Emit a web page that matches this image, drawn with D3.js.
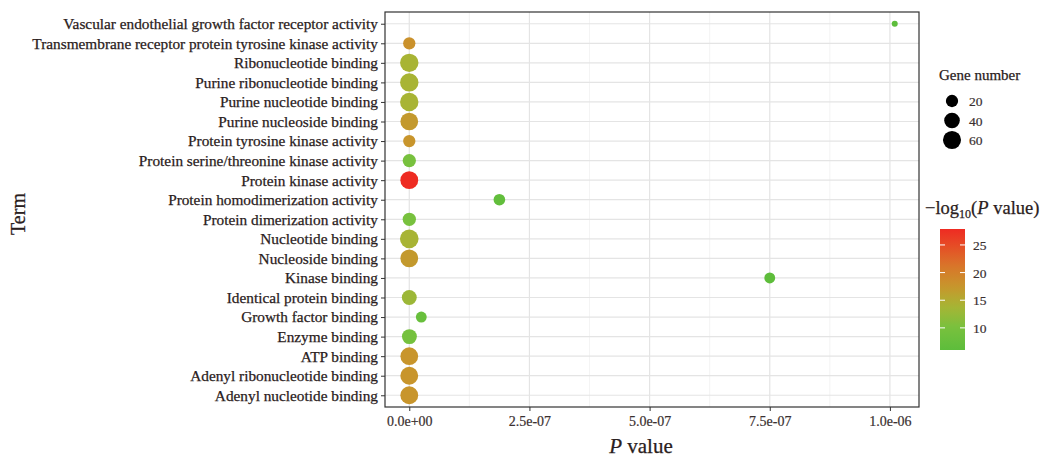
<!DOCTYPE html>
<html>
<head>
<meta charset="utf-8">
<script src="https://cdn.jsdelivr.net/npm/d3@7"></script>
<style>
  html, body { margin: 0; padding: 0; background: #fff; }
  svg { display: block; font-family: "Liberation Serif", "Times New Roman", serif; }
</style>
</head>
<body>
<svg id="chart" width="1046" height="458"></svg>
<script>
// GO terms, top to bottom
const terms = [
  "Vascular endothelial growth factor receptor activity",
  "Transmembrane receptor protein tyrosine kinase activity",
  "Ribonucleotide binding",
  "Purine ribonucleotide binding",
  "Purine nucleotide binding",
  "Purine nucleoside binding",
  "Protein tyrosine kinase activity",
  "Protein serine/threonine kinase activity",
  "Protein kinase activity",
  "Protein homodimerization activity",
  "Protein dimerization activity",
  "Nucleotide binding",
  "Nucleoside binding",
  "Kinase binding",
  "Identical protein binding",
  "Growth factor binding",
  "Enzyme binding",
  "ATP binding",
  "Adenyl ribonucleotide binding",
  "Adenyl nucleotide binding"
];
// enrichment P values
const pValues = [
  1.01e-6, 1e-18, 1e-14, 1e-14, 1e-14, 1e-17, 3e-18, 1e-10, 1.3e-28, 1.875e-7,
  1e-10, 1e-14, 1e-17, 7.5e-7, 1e-13, 2.5e-8, 3e-10, 3e-18, 3e-18, 3e-18
];
// genes per term
const geneCounts = [
  5, 20, 63, 63, 63, 57, 20, 25, 58, 17,
  25, 65, 57, 14, 35, 14, 35, 57, 58, 58
];
const xTicks = [0, 2.5e-7, 5e-7, 7.5e-7, 1e-6];
const xTickLabels = ["0.0e+00", "2.5e-07", "5.0e-07", "7.5e-07", "1.0e-06"];
const sizeBreaks = [20, 40, 60];
const colorBreaks = [10, 15, 20, 25];
// colour ramp stops along -log10(P)
const rampValues = [6, 10, 14, 17.5, 21, 25, 28];
const rampColors = ["#5dbd3b", "#78c13e", "#a8b434", "#c8952c", "#d8782a", "#e64b26", "#ee2a22"];

const data = terms.map((t, i) => ({
  term: t, p: pValues[i], genes: geneCounts[i], logp: -Math.log10(pValues[i])
}));

const svg = d3.select("#chart");
const panel = { left: 385, right: 919, top: 12, bottom: 407 };
const textFill = "#2a2020";

// continuous x with 5% padding on both sides
const pMax = d3.max(pValues), pMin = d3.min(pValues);
const pad = (pMax - pMin) * 0.05;
const x = d3.scaleLinear().domain([pMin - pad, pMax + pad]).range([panel.left, panel.right]);

// discrete y with 0.6 band padding on each end
const y = d3.scalePoint().domain(terms).range([panel.top, panel.bottom]).padding(0.6);

const logExtent = d3.extent(data, d => d.logp);
const color = d3.scaleLinear().domain(rampValues).range(rampColors).clamp(true);

const geneExtent = d3.extent(geneCounts);
const norm = d3.scaleLinear().domain(geneExtent).range([0, 1]);
const rScale = d3.scaleSqrt().domain([0, 1]).range([3, 9.3]);
const radius = g => rScale(Math.max(0, norm(g)));

// gridlines
const grid = svg.append("g");
const step = xTicks[1] - xTicks[0];
const minorTicks = d3.range(-1, xTicks.length).map(i => xTicks[0] + (i + 0.5) * step)
  .filter(v => x(v) > panel.left && x(v) < panel.right);
grid.selectAll(".minor").data(minorTicks).join("line")
  .attr("x1", d => x(d)).attr("x2", d => x(d)).attr("y1", panel.top).attr("y2", panel.bottom)
  .attr("stroke", "#f0f0f0").attr("stroke-width", 0.8);
grid.selectAll(".major").data(xTicks).join("line")
  .attr("x1", d => x(d)).attr("x2", d => x(d)).attr("y1", panel.top).attr("y2", panel.bottom)
  .attr("stroke", "#e4e4e4").attr("stroke-width", 1.2);
grid.selectAll(".hrow").data(terms).join("line")
  .attr("x1", panel.left).attr("x2", panel.right).attr("y1", d => y(d)).attr("y2", d => y(d))
  .attr("stroke", "#e4e4e4").attr("stroke-width", 1.2);

// points
svg.append("g").selectAll("circle").data(data).join("circle")
  .attr("cx", d => x(d.p)).attr("cy", d => y(d.term))
  .attr("r", d => radius(d.genes))
  .attr("fill", d => color(d.logp));

// panel border
svg.append("rect")
  .attr("x", panel.left).attr("y", panel.top)
  .attr("width", panel.right - panel.left).attr("height", panel.bottom - panel.top)
  .attr("fill", "none").attr("stroke", "#333").attr("stroke-width", 1.2);

// x axis
const xAxis = d3.axisBottom(x).tickValues(xTicks).tickFormat((d, i) => xTickLabels[i]).tickSizeInner(4).tickSizeOuter(0).tickPadding(5);
const gx = svg.append("g").attr("transform", `translate(0,${panel.bottom})`).call(xAxis);
gx.select(".domain").remove();
gx.selectAll(".tick line").attr("stroke", "#333");
gx.selectAll(".tick text").attr("fill", "#3a3030").attr("stroke", "#3a3030").attr("stroke-width", 0.2)
  .style("font-size", "14px").style("font-family", "Liberation Serif");

// y axis
const yAxis = d3.axisLeft(y).tickSizeInner(4).tickSizeOuter(0).tickPadding(3);
const gy = svg.append("g").attr("transform", `translate(${panel.left},0)`).call(yAxis);
gy.select(".domain").remove();
gy.selectAll(".tick line").attr("stroke", "#333");
gy.selectAll(".tick text").attr("fill", textFill).attr("stroke", textFill).attr("stroke-width", 0.25)
  .style("font-size", "15.3px").style("font-family", "Liberation Serif");

// axis titles
svg.append("text").attr("transform", "translate(25,214) rotate(-90)")
  .attr("text-anchor", "middle").style("font-size", "20px").attr("fill", textFill)
  .attr("stroke", textFill).attr("stroke-width", 0.25).text("Term");
const xt = svg.append("text").attr("x", 641).attr("y", 453)
  .attr("text-anchor", "middle").style("font-size", "21px").attr("fill", textFill)
  .attr("stroke", textFill).attr("stroke-width", 0.25);
xt.append("tspan").attr("font-style", "italic").text("P");
xt.append("tspan").text(" value");

// size legend
const lg = svg.append("g");
lg.append("text").attr("x", 939).attr("y", 80).style("font-size", "15px").attr("fill", textFill)
  .attr("stroke", textFill).attr("stroke-width", 0.25).text("Gene number");
sizeBreaks.forEach((b, i) => {
  const cy = 101 + i * 19.5;
  lg.append("circle").attr("cx", 952).attr("cy", cy).attr("r", radius(b)).attr("fill", "#000");
  lg.append("text").attr("x", 969).attr("y", cy + 5).style("font-size", "13.5px").attr("fill", "#3a3030")
    .attr("stroke", "#3a3030").attr("stroke-width", 0.2).text(b);
});

// colour legend
const cg = svg.append("g");
const ct = cg.append("text").attr("x", 925).attr("y", 214).style("font-size", "18.5px").attr("fill", textFill)
  .attr("stroke", textFill).attr("stroke-width", 0.25);
ct.append("tspan").text("\u2212log");
ct.append("tspan").attr("dy", 4).style("font-size", "12px").text("10");
ct.append("tspan").attr("dy", -4).text("(");
ct.append("tspan").attr("font-style", "italic").text("P");
ct.append("tspan").text(" value)");

const bar = { x: 940, w: 25, top: 229, bottom: 350 };
const cy = d3.scaleLinear().domain(logExtent).range([bar.bottom, bar.top]);
const defs = svg.append("defs");
const grad = defs.append("linearGradient").attr("id", "cbar").attr("x1", 0).attr("y1", 1).attr("x2", 0).attr("y2", 0);
d3.range(0, 1.0001, 0.05).forEach(t => {
  grad.append("stop").attr("offset", t)
    .attr("stop-color", color(logExtent[0] + t * (logExtent[1] - logExtent[0])));
});
cg.append("rect").attr("x", bar.x).attr("y", bar.top).attr("width", bar.w).attr("height", bar.bottom - bar.top)
  .attr("fill", "url(#cbar)");
colorBreaks.forEach(b => {
  const yy = cy(b);
  cg.append("line").attr("x1", bar.x).attr("x2", bar.x + 5).attr("y1", yy).attr("y2", yy).attr("stroke", "#fff").attr("stroke-width", 1);
  cg.append("line").attr("x1", bar.x + bar.w - 5).attr("x2", bar.x + bar.w).attr("y1", yy).attr("y2", yy).attr("stroke", "#fff").attr("stroke-width", 1);
  cg.append("text").attr("x", bar.x + bar.w + 8).attr("y", yy + 5).style("font-size", "13.5px").attr("fill", "#3a3030")
    .attr("stroke", "#3a3030").attr("stroke-width", 0.2).text(b);
});
</script>
</body>
</html>
